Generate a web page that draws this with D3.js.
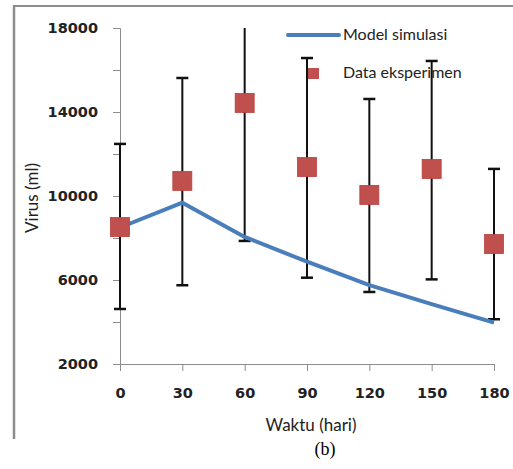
<!DOCTYPE html>
<html>
<head>
<meta charset="utf-8">
<script src="https://cdn.jsdelivr.net/npm/d3@7"></script>
<style>
  body { margin: 0; background: #fff; }
  svg { display: block; }
</style>
</head>
<body>
<svg id="chart" width="513" height="469"></svg>
<script>
// days of measurement
const days = [0, 30, 60, 90, 120, 150, 180];
// model simulation curve
const modelValues = [8500, 9680, 8050, 6870, 5760, 4850, 3970];
// experimental data with error bar ends
const dataValues = [8520, 10720, 14430, 11380, 10050, 11290, 7710];
const errLow = [4620, 5750, 7860, 6110, 5430, 6030, 4130];
const errHigh = [12480, 15620, 21000, 16570, 14620, 16430, 11290];
const yTicks = [2000, 6000, 10000, 14000, 18000];
const yMinor = [4000, 8000, 12000, 16000];

const svg = d3.select("#chart");
const margin = { top: 28, right: 19, bottom: 105, left: 120 };
const width = 513, height = 469;

const x = d3.scaleLinear()
    .domain([0, 180])
    .range([margin.left, width - margin.right]);

const y = d3.scaleLinear()
    .domain([2000, 18000])
    .range([height - margin.bottom, margin.top]);

// outer frame (only top and left visible)
svg.append("line")
    .attr("x1", 14).attr("x2", width)
    .attr("y1", 6).attr("y2", 6)
    .attr("stroke", "#8c8c8c").attr("stroke-width", 2);
svg.append("line")
    .attr("x1", 14).attr("x2", 14)
    .attr("y1", 5).attr("y2", 439)
    .attr("stroke", "#8c8c8c").attr("stroke-width", 2.5);

// clip to plotting area
svg.append("defs").append("clipPath")
    .attr("id", "plotClip")
    .append("rect")
    .attr("x", margin.left - 20)
    .attr("y", y(18000))
    .attr("width", width - margin.left - margin.right + 40)
    .attr("height", y(2000) - y(18000));

// axes
const yAxis = svg.append("g")
    .attr("transform", `translate(${margin.left},0)`)
    .call(d3.axisLeft(y).tickValues(yTicks.concat(yMinor)).tickSize(7).tickFormat(d => yTicks.includes(d) ? d : ""));
yAxis.selectAll("path").attr("stroke", "#8c8c8c");
yAxis.selectAll("line").attr("stroke", "#8c8c8c");
yAxis.selectAll("text")
    .attr("x", -22)
    .style("font-family", "DejaVu Sans")
    .style("font-weight", "bold")
    .style("font-size", "14.5px")
    .attr("fill", "#222");

const xAxis = svg.append("g")
    .attr("transform", `translate(0,${y(2000)})`)
    .call(d3.axisBottom(x).tickValues(days).tickSize(7).tickSizeOuter(0));
xAxis.selectAll("path").attr("stroke", "#8c8c8c");
xAxis.selectAll("line").attr("stroke", "#8c8c8c");
xAxis.selectAll("text")
    .attr("y", 24)
    .style("font-family", "DejaVu Sans")
    .style("font-weight", "bold")
    .style("font-size", "14.5px")
    .attr("fill", "#222");

const plot = svg.append("g").attr("clip-path", "url(#plotClip)");

// error bars
plot.selectAll(".err")
    .data(days)
    .enter()
    .append("line")
    .attr("x1", d => x(d)).attr("x2", d => x(d))
    .attr("y1", (d, i) => y(errLow[i]))
    .attr("y2", (d, i) => y(errHigh[i]))
    .attr("stroke", "#111")
    .attr("stroke-width", 2);

const caps = [];
days.forEach((d, i) => { caps.push([d, errLow[i]]); caps.push([d, errHigh[i]]); });
plot.selectAll(".cap")
    .data(caps)
    .enter()
    .append("line")
    .attr("x1", d => x(d[0]) - 6).attr("x2", d => x(d[0]) + 6)
    .attr("y1", d => y(d[1])).attr("y2", d => y(d[1]))
    .attr("stroke", "#111")
    .attr("stroke-width", 2.5);

// model line
const line = d3.line()
    .x((d, i) => x(days[i]))
    .y(d => y(d));

plot.append("path")
    .datum(modelValues)
    .attr("fill", "none")
    .attr("stroke", "#4a7ebb")
    .attr("stroke-width", 4)
    .attr("stroke-linejoin", "round")
    .attr("d", line);

// data squares
const sq = 19;
plot.selectAll(".pt")
    .data(dataValues)
    .enter()
    .append("rect")
    .attr("x", (d, i) => x(days[i]) - sq / 2)
    .attr("y", d => y(d) - sq / 2)
    .attr("width", sq).attr("height", sq)
    .attr("fill", "#c0504d")
    .attr("stroke", "#b9403d")
    .attr("stroke-width", 0.8);

// legend
const legend = svg.append("g");
legend.append("line")
    .attr("x1", 288).attr("x2", 339)
    .attr("y1", 35).attr("y2", 35)
    .attr("stroke", "#4a7ebb").attr("stroke-width", 4)
    .attr("stroke-linecap", "round");
legend.append("text")
    .attr("x", 343).attr("y", 40)
    .style("font-family", "Lato")
    .style("font-size", "16px")
    .attr("fill", "#222")
    .text("Model simulasi");
legend.append("rect")
    .attr("x", 308).attr("y", 68)
    .attr("width", 11).attr("height", 11)
    .attr("fill", "#c0504d");
legend.append("text")
    .attr("x", 343).attr("y", 78)
    .style("font-family", "Lato")
    .style("font-size", "16px")
    .attr("fill", "#222")
    .text("Data eksperimen");

// axis titles
svg.append("text")
    .attr("transform", `translate(38,198) rotate(-90)`)
    .attr("text-anchor", "middle")
    .style("font-family", "Lato")
    .style("font-size", "17px")
    .attr("fill", "#222")
    .text("Virus (ml)");

svg.append("text")
    .attr("x", 311).attr("y", 431)
    .attr("text-anchor", "middle")
    .style("font-family", "Lato")
    .style("font-size", "17px")
    .attr("fill", "#222")
    .text("Waktu (hari)");

svg.append("text")
    .attr("x", 325).attr("y", 455)
    .attr("text-anchor", "middle")
    .style("font-family", "Liberation Serif")
    .style("font-size", "18px")
    .attr("fill", "#000")
    .text("(b)");
</script>
</body>
</html>
